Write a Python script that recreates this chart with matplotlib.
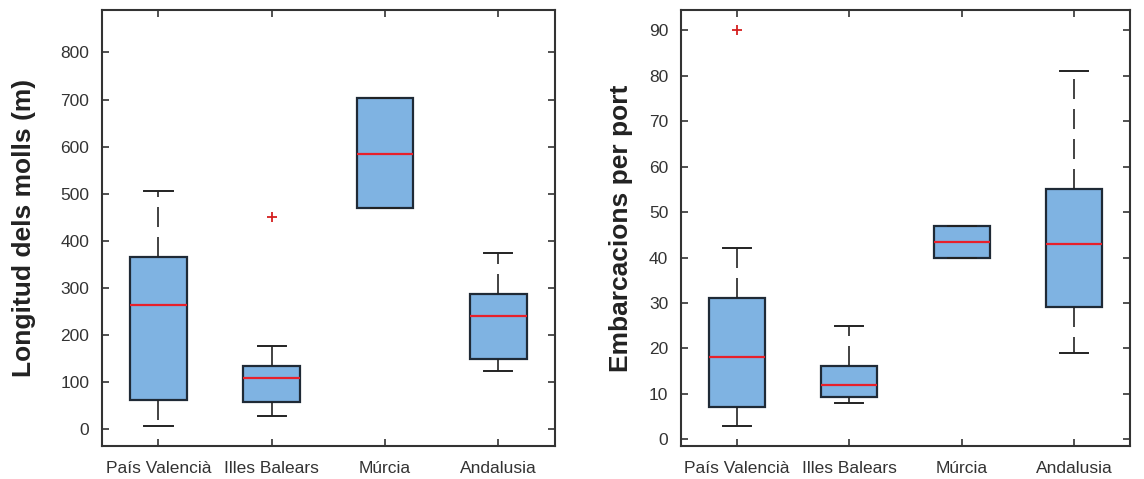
import matplotlib.pyplot as plt
import numpy as np

plt.rcParams['font.family'] = ['Liberation Sans', 'DejaVu Sans']

regions = ['País Valencià', 'Illes Balears', 'Múrcia', 'Andalusia']

# Longitud dels molls (m): whislo, q1, median, q3, whishi
molls_whislo = [7, 28, 470, 125]
molls_q1 = [62, 58, 470, 150]
molls_med = [265, 110, 585, 240]
molls_q3 = [365, 135, 703, 288]
molls_whishi = [505, 177, 703, 375]
molls_fliers = [[], [450], [], []]

# Embarcacions per port
emb_whislo = [3, 8, 40, 19]
emb_q1 = [7, 9.3, 40, 29]
emb_med = [18, 12, 43.5, 43]
emb_q3 = [31, 16.2, 47, 55.2]
emb_whishi = [42, 25, 47, 81]
emb_fliers = [[90], [], [], []]

box_color = '#7fb3e2'
edge_color = '#1f2a36'


def fer_stats(whislo, q1, med, q3, whishi, fliers):
    stats = []
    for i in range(len(regions)):
        stats.append({'label': regions[i], 'whislo': whislo[i], 'q1': q1[i], 'med': med[i],
                      'q3': q3[i], 'whishi': whishi[i], 'fliers': fliers[i]})
    return stats


def dibuixar(ax, stats, ylabel, ylim, yticks, label_x):
    ax.bxp(stats, positions=np.arange(1, len(stats) + 1), widths=0.5, capwidths=0.25,
           patch_artist=True, showfliers=True,
           boxprops=dict(facecolor=box_color, edgecolor=edge_color, linewidth=1.6),
           medianprops=dict(color='#e8202a', linewidth=1.6),
           whiskerprops=dict(color='#222222', linewidth=1.2, linestyle=(0, (12, 6))),
           capprops=dict(color='#222222', linewidth=1.4),
           flierprops=dict(marker='+', markeredgecolor='#d42020', markersize=7, markeredgewidth=1.3))
    ax.set_xlim(0.5, 4.5)
    ax.set_ylim(*ylim)
    ax.set_yticks(yticks)
    ax.set_ylabel(ylabel, fontsize=19, fontweight='bold', color='#222222')
    ax.yaxis.set_label_coords(label_x, 0.5)
    ax.tick_params(direction='in', top=True, right=True, length=5, width=1.2,
                   labelsize=12.5, colors='#333333')
    ax.tick_params(axis='y', pad=9)
    ax.tick_params(axis='x', pad=11)
    for s in ax.spines.values():
        s.set_linewidth(1.5)
        s.set_color('#333333')


fig = plt.figure(figsize=(11.44, 4.79), dpi=100)
ax1 = fig.add_axes([0.089, 0.069, 0.396, 0.91])
ax2 = fig.add_axes([0.595, 0.069, 0.393, 0.91])

dibuixar(ax1, fer_stats(molls_whislo, molls_q1, molls_med, molls_q3, molls_whishi, molls_fliers),
         'Longitud dels molls (m)', (-35, 890), np.arange(0, 801, 100), -0.146)
dibuixar(ax2, fer_stats(emb_whislo, emb_q1, emb_med, emb_q3, emb_whishi, emb_fliers),
         'Embarcacions per port', (-1.5, 94.5), np.arange(0, 91, 10), -0.105)

fig.savefig('out.png', dpi=100)
